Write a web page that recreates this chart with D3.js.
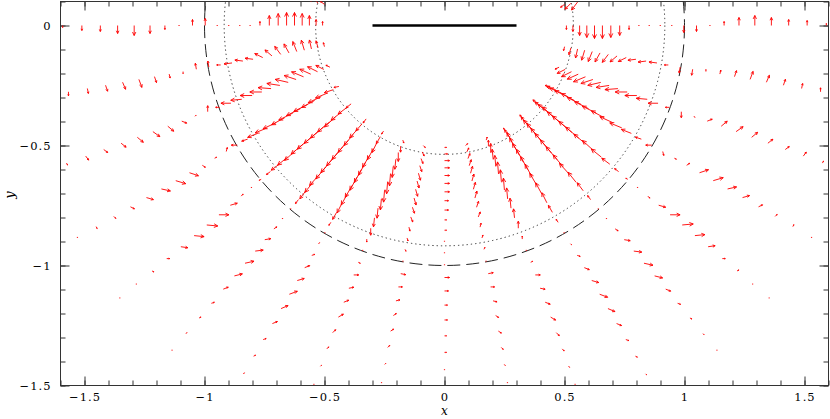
<!DOCTYPE html>
<html>
<head>
<meta charset="utf-8">
<title>vector field</title>
<style>
  body { margin: 0; background: #fff; }
  svg { display: block; }
  .tick text { font-family: "DejaVu Serif", serif; font-size: 11.5px; letter-spacing: 1px; fill: #000; }
  .tick line { stroke: #333; }
</style>
</head>
<body>
<svg id="chart" width="830" height="419"></svg>
<script src="https://cdn.jsdelivr.net/npm/d3@7/dist/d3.min.js"></script>
<script>
"use strict";

// radii of the sample rings (same on every ray)
var radii = [0.508, 0.535, 0.563, 0.593, 0.625, 0.658, 0.693, 0.730, 0.769, 0.810,
             0.853, 0.899, 0.947, 0.997, 1.050, 1.106, 1.165, 1.227, 1.293, 1.362,
             1.434, 1.511, 1.591, 1.676, 1.766];

// ray angles in degrees, and the vector [u, v] read at each ring of that ray
var rayAngles = [170, 180, -170, -160, -150, -140, -130, -120, -110, -100, -90,
                 -80, -70, -60, -50, -40, -30, -20, -10, 0, 10];

var vec170 = [[-4,3],[-6,6],[-6,8]];
var vec180 = [[0,4],[0,6],[0,10],[0,12],[0,13],[0,13],[0,12],[0,10],[0,4],[0,1],[0,0.5],[0,0.5],[0,1],[0,7],[0,6],[0,1],[0,-4],[0,-8],[0,-10],[0,-8],[0,-6],[0,-5],[0,-2]];
var vecM170 = [[-1,4],[-2,7],[-2,9],[-3,10],[-4,10],[-5,9],[-6,8],[-7,6],[-8,4],[-8,1],[-8,1],[-8,-1],[-4,0],[-1,6],[-1,6],[0,-2],[1,-4],[2,-6],[3,-8],[3,-7],[2,-6],[1,-5],[0,-4]];
var vecM160 = [[-4,2],[-8,4],[-10,5],[-11,5],[-12,5],[-12,4],[-13,3],[-13,2],[-13,1],[-12,0],[-12,0],[-11,-1],[-10,0],[-4,0],[0,6],[1,1],[5,-2],[6,-5],[7,-5],[6,-5],[5,-4],[4,-3],[3,-4],[1,-2]];
var vecM150 = [[-5,-1],[-9,-3],[-12,-5],[-13,-6],[-13,-7],[-14,-7],[-14,-7],[-14,-7],[-13,-7],[-13,-6],[-12,-5],[-10,-4],[-6,-2],[-6,0],[1,4],[2,1],[3,-2],[9,-3],[10,-3],[9,-2],[7,-2],[4,-2],[2,-2],[1,-2],[0.5,-0.5]];
var vecM140 = [[-5,-4],[-8,-6],[-10,-8],[-11,-10],[-12,-10],[-13,-11],[-13,-11],[-13,-11],[-12,-10],[-11,-10],[-10,-8],[-8,-6],[-4,-3],[-2,-1],[0,1],[2,2],[7,2],[10,0],[11,-1],[10,-1],[7,-1],[3,0],[2,-1],[1,0],[0.5,0]];
var vecM130 = [[-3,-4],[-6,-7],[-8,-9],[-9,-11],[-10,-12],[-11,-13],[-11,-13],[-11,-13],[-10,-12],[-10,-11],[-8,-10],[-6,-8],[-3,-4],[0,0],[1,0],[3,2],[6,1],[8,1],[9,2],[8,2],[5,2],[3,1],[2,1],[1,1],[0.5,0.5]];
var vecM120 = [[-2,-3],[-4,-7],[-5,-10],[-6,-11],[-7,-12],[-7,-13],[-7,-13],[-7,-13],[-7,-12],[-6,-11],[-5,-10],[-4,-7],[-2,-3],[0,0],[1,1],[3,1],[5,2],[7,2],[8,3],[7,3],[5,2],[3,1],[2,1],[1,1]];
var vecM110 = [[1,-3],[0,-6],[0,-9],[-1,-10],[-1,-11],[-1,-12],[-1,-12],[-1,-12],[-1,-11],[-1,-10],[-1,-9],[0,-7],[0,-3],[0,0],[2,-1],[5,0],[5,1],[5,2],[5,3],[3,3],[2,2],[1,1],[0.5,0.5]];
var vecM100 = [[2,-2],[2,-4],[2,-5],[2,-6],[2,-7],[2,-7],[2,-7],[2,-7],[2,-6],[2,-5],[1,-4],[1,-3],[1,-2],[1,0],[5,-1],[4,0],[4,1],[3,2],[3,2],[2,2],[1,1],[0.5,0.5]];
var vecM90 = [[2,0],[3,0],[5,0],[5,0],[5,0],[5,0],[5,0],[4,0],[4,0],[2,0],[2,0],[1,0],[1,0],[1,0],[5,0],[4,0],[3,0],[3,0],[2,0],[2,0],[1,0]];
var vecM80 = [[2,2],[2,4],[2,5],[2,6],[2,7],[2,7],[2,7],[2,7],[2,6],[2,5],[1,4],[1,3],[1,2],[1,0],[5,1],[4,0],[4,-1],[3,-2],[3,-2],[2,-2],[1,-1],[0.5,-0.5]];
var vecM70 = [[1,3],[0,6],[0,9],[-1,10],[-1,11],[-1,12],[-1,12],[-1,12],[-1,11],[-1,10],[-1,9],[0,7],[0,3],[0,0],[2,1],[5,0],[5,-1],[5,-2],[5,-3],[3,-3],[2,-2],[1,-1],[0.5,-0.5]];
var vecM60 = [[-2,3],[-4,7],[-5,10],[-6,11],[-7,12],[-7,13],[-7,13],[-7,13],[-7,12],[-6,11],[-5,10],[-4,7],[-2,3],[0,0],[1,-1],[3,-1],[5,-2],[7,-2],[8,-3],[7,-3],[5,-2],[3,-1],[2,-1],[1,-1]];
var vecM50 = [[-3,4],[-6,7],[-8,9],[-9,11],[-10,12],[-11,13],[-11,13],[-11,13],[-10,12],[-10,11],[-8,10],[-6,8],[-3,4],[0,0],[1,0],[3,-2],[6,-1],[8,-1],[9,-2],[8,-2],[5,-2],[3,-1],[2,-1],[1,-1],[0.5,-0.5]];
var vecM40 = [[-5,4],[-8,6],[-10,8],[-11,10],[-12,10],[-13,11],[-13,11],[-13,11],[-12,10],[-11,10],[-10,8],[-8,6],[-4,3],[-2,1],[0,-1],[2,-2],[7,-2],[10,0],[11,1],[10,1],[7,1],[3,0],[2,1],[1,0],[0.5,0]];
var vecM30 = [[-5,1],[-9,3],[-12,5],[-13,6],[-13,7],[-14,7],[-14,7],[-14,7],[-13,7],[-13,6],[-12,5],[-10,4],[-6,2],[-6,0],[1,-4],[2,-1],[3,2],[9,3],[10,3],[9,2],[7,2],[4,2],[2,2],[1,2],[0.5,0.5]];
var vecM20 = [[-4,-2],[-8,-4],[-10,-5],[-11,-5],[-12,-5],[-12,-4],[-13,-3],[-13,-2],[-13,-1],[-12,0],[-12,0],[-11,1],[-10,0],[-4,0],[0,-6],[1,-1],[5,2],[6,5],[7,5],[6,5],[5,4],[4,3],[3,4],[1,2]];
var vecM10 = [[-1,-4],[-2,-7],[-2,-9],[-3,-10],[-4,-10],[-5,-9],[-6,-8],[-7,-6],[-8,-4],[-8,-1],[-8,-1],[-8,1],[-4,0],[-1,-6],[-1,-6],[0,2],[1,4],[2,6],[3,8],[3,7],[2,6],[1,5],[0,4]];
var vec0 = [[0,-4],[0,-6],[0,-10],[0,-12],[0,-13],[0,-13],[0,-12],[0,-10],[0,-4],[0,-1],[0,-0.5],[0,-0.5],[0,-1],[0,-7],[0,-6],[0,-1],[0,4],[0,8],[0,10],[0,8],[0,6],[0,5],[0,2]];
var vec10 = [[-4,-3],[-6,-6],[-6,-8]];

var rayVectors = [vec170, vec180, vecM170, vecM160, vecM150, vecM140, vecM130, vecM120,
                  vecM110, vecM100, vecM90, vecM80, vecM70, vecM60, vecM50, vecM40,
                  vecM30, vecM20, vecM10, vec0, vec10];

var xTicksMajor = [-1.5, -1, -0.5, 0, 0.5, 1, 1.5];
var yTicksMajor = [0, -0.5, -1, -1.5];

var plateHalf = 0.3;          // black bar on y = 0
var dashedR = 1.0;            // dashed circle
var dottedR = [0.537, 0.918]; // dotted circles
var vecScale = 1 / 240;       // vector units -> data units

var svg = d3.select("#chart");

var x = d3.scaleLinear().domain([-1.6, 1.6]).range([60.5, 828.5]);
var y = d3.scaleLinear().domain([-1.5, 0.1]).range([385.5, 1.5]);

svg.append("defs").append("clipPath").attr("id", "plot")
	.append("rect")
	.attr("x", x(-1.6)).attr("y", y(0.1))
	.attr("width", x(1.6) - x(-1.6)).attr("height", y(-1.5) - y(0.1));

var minorX = d3.range(-16, 17).map(function(d){ return d / 10; });
var minorY = d3.range(-15, 2).map(function(d){ return d / 10; });
var fmt = d3.format("~g");

function tidy(g) {
	g.select(".domain").remove();
	g.attr("font-family", null).attr("font-size", null);
}

// minor ticks
svg.append("g").attr("transform", "translate(0," + y(-1.5) + ")")
	.call(d3.axisBottom(x).tickValues(minorX).tickSize(-5).tickFormat("")).call(tidy);
svg.append("g").attr("transform", "translate(0," + y(0.1) + ")")
	.call(d3.axisTop(x).tickValues(minorX).tickSize(-5).tickFormat("")).call(tidy);
svg.append("g").attr("transform", "translate(" + x(-1.6) + ",0)")
	.call(d3.axisLeft(y).tickValues(minorY).tickSize(-5).tickFormat("")).call(tidy);
svg.append("g").attr("transform", "translate(" + x(1.6) + ",0)")
	.call(d3.axisRight(y).tickValues(minorY).tickSize(-5).tickFormat("")).call(tidy);

// major ticks + labels
svg.append("g").attr("transform", "translate(0," + y(-1.5) + ")")
	.call(d3.axisBottom(x).tickValues(xTicksMajor).tickSize(-9).tickPadding(7).tickFormat(fmt)).call(tidy);
svg.append("g").attr("transform", "translate(0," + y(0.1) + ")")
	.call(d3.axisTop(x).tickValues(xTicksMajor).tickSize(-9).tickFormat("")).call(tidy);
svg.append("g").attr("transform", "translate(" + x(-1.6) + ",0)")
	.call(d3.axisLeft(y).tickValues(yTicksMajor).tickSize(-9).tickPadding(9).tickFormat(fmt)).call(tidy);
svg.append("g").attr("transform", "translate(" + x(1.6) + ",0)")
	.call(d3.axisRight(y).tickValues(yTicksMajor).tickSize(-9).tickFormat("")).call(tidy);

svg.append("rect")
	.attr("x", x(-1.6)).attr("y", y(0.1))
	.attr("width", x(1.6) - x(-1.6)).attr("height", y(-1.5) - y(0.1))
	.attr("fill", "none").attr("stroke", "#333").attr("stroke-width", 1);

var plot = svg.append("g").attr("clip-path", "url(#plot)");

// circles
var k = x(1) - x(0);
plot.append("circle")
	.attr("cx", x(0)).attr("cy", y(0)).attr("r", dashedR * k)
	.attr("fill", "none").attr("stroke", "#222").attr("stroke-width", 1)
	.attr("stroke-dasharray", "13 6");
plot.selectAll(".dot-circle").data(dottedR).enter().append("circle")
	.attr("class", "dot-circle")
	.attr("cx", x(0)).attr("cy", y(0)).attr("r", function(d){ return d * k; })
	.attr("fill", "none").attr("stroke", "#333").attr("stroke-width", 1)
	.attr("stroke-dasharray", "1.3 3");

// bar
plot.append("line")
	.attr("x1", x(-plateHalf)).attr("x2", x(plateHalf))
	.attr("y1", y(0)).attr("y2", y(0))
	.attr("stroke", "#000").attr("stroke-width", 2.6);

// vectors
var pts = [];
rayAngles.forEach(function(a, i){
	var t = a * Math.PI / 180;
	rayVectors[i].forEach(function(uv, j){
		var r = radii[j];
		pts.push({ x: r * Math.cos(t), y: r * Math.sin(t), u: uv[0], v: uv[1] });
	});
});

function arrowPath(d) {
	var x0 = x(d.x), y0 = y(d.y);
	var x1 = x(d.x + d.u * vecScale), y1 = y(d.y + d.v * vecScale);
	var dx = x1 - x0, dy = y1 - y0;
	var len = Math.sqrt(dx * dx + dy * dy);
	if (len < 1.2) {
		return "M" + (x0 - 0.6) + "," + y0 + "L" + (x0 + 0.6) + "," + y0;
	}
	var h = Math.min(4.5, len * 0.38);
	var ang = Math.atan2(dy, dx);
	var a1 = ang + Math.PI - 0.45, a2 = ang + Math.PI + 0.45;
	return "M" + x0 + "," + y0 + "L" + x1 + "," + y1 +
		"M" + (x1 + h * Math.cos(a1)) + "," + (y1 + h * Math.sin(a1)) +
		"L" + x1 + "," + y1 +
		"L" + (x1 + h * Math.cos(a2)) + "," + (y1 + h * Math.sin(a2));
}

plot.append("g").selectAll("path").data(pts).enter().append("path")
	.attr("d", arrowPath)
	.attr("fill", "none")
	.attr("stroke", "#ff0000")
	.attr("stroke-width", 0.9);

// axis titles
svg.append("text")
	.attr("x", x(0)).attr("y", 415)
	.attr("text-anchor", "middle")
	.attr("font-family", "DejaVu Serif, serif").attr("font-style", "italic")
	.attr("font-size", 12)
	.text("x");
svg.append("text")
	.attr("transform", "translate(14,195) rotate(-90)")
	.attr("text-anchor", "middle")
	.attr("font-family", "DejaVu Serif, serif").attr("font-style", "italic")
	.attr("font-size", 13)
	.text("y");
</script>
</body>
</html>
